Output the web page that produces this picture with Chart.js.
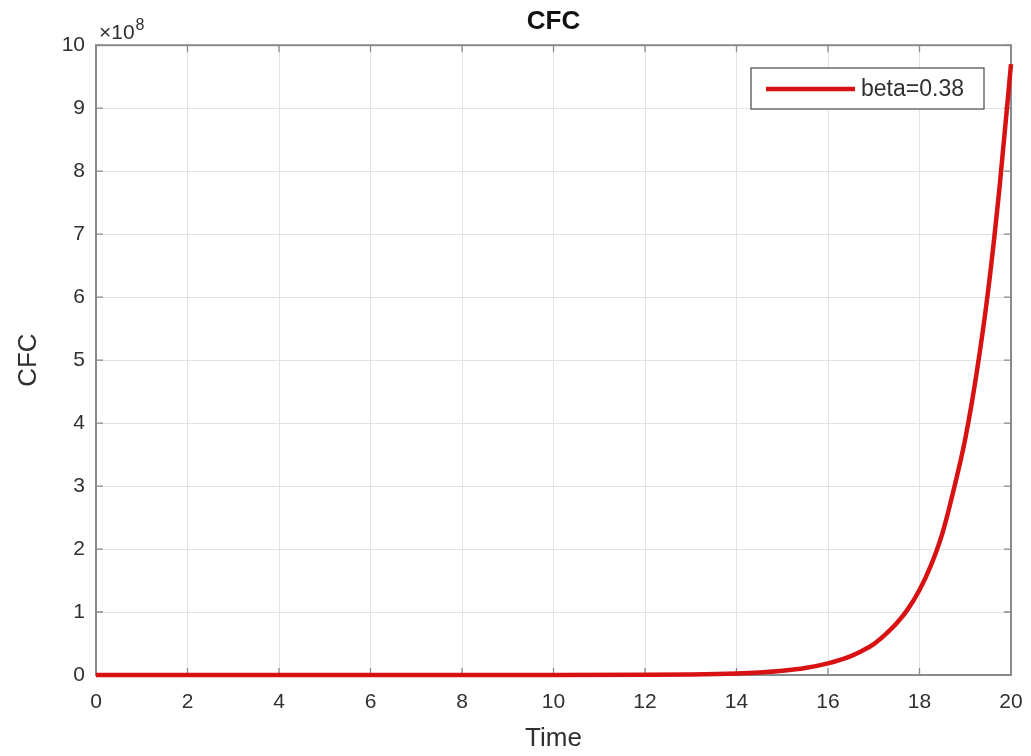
<!DOCTYPE html>
<html>
<head>
<meta charset="utf-8">
<script src="https://cdn.jsdelivr.net/npm/chart.js@4"></script>
<style>
  html, body { margin: 0; padding: 0; background: #fff; }
  #wrap { width: 1031px; height: 756px; }
</style>
</head>
<body>
<div id="wrap"><canvas id="cfcChart"></canvas></div>
<script>
// time (x) and CFC values in units of 1e8
const times = [0, 2, 4, 6, 8, 10, 12, 13, 14, 14.5, 15, 15.5, 16, 16.25, 16.5, 16.75, 17, 17.25, 17.5, 17.75,
               18, 18.25, 18.5, 18.75, 19, 19.25, 19.5, 19.75, 20];
const cfc = [0, 0, 0, 0, 0.0001, 0.0004, 0.0033, 0.009, 0.024, 0.04, 0.067, 0.11, 0.185, 0.235, 0.30, 0.385, 0.49, 0.64, 0.82, 1.05,
             1.35, 1.74, 2.25, 2.95, 3.75, 4.8, 6.1, 7.75, 9.70];
const xTicks = [0, 2, 4, 6, 8, 10, 12, 14, 16, 18, 20];
const yTicks = [0, 1, 2, 3, 4, 5, 6, 7, 8, 9, 10];
const seriesLabel = 'beta=0.38';

const FONT = 'Liberation Sans, Arial, Helvetica, sans-serif';
const TEXT = '#303030';
const AXIS = '#8a8a8a';

const points = times.map((t, i) => ({ x: t, y: cfc[i] }));

// matlab style box with inward ticks, exponent label and legend
const matlabAxes = {
    id: 'matlabAxes',
    beforeDatasetsDraw(chart) {
        const { ctx, chartArea: a, scales } = chart;
        ctx.save();
        ctx.strokeStyle = AXIS;
        ctx.lineWidth = 2;
        ctx.strokeRect(a.left, a.top, a.right - a.left, a.bottom - a.top);
        ctx.lineWidth = 1.3;
        ctx.beginPath();
        xTicks.forEach(v => {
            const px = scales.x.getPixelForValue(v);
            ctx.moveTo(px, a.bottom); ctx.lineTo(px, a.bottom - 7);
            ctx.moveTo(px, a.top); ctx.lineTo(px, a.top + 7);
        });
        yTicks.forEach(v => {
            const py = scales.y.getPixelForValue(v);
            ctx.moveTo(a.left, py); ctx.lineTo(a.left + 7, py);
            ctx.moveTo(a.right, py); ctx.lineTo(a.right - 7, py);
        });
        ctx.stroke();
        ctx.restore();
    },
    afterDraw(chart) {
        const { ctx, chartArea: a } = chart;
        ctx.save();
        // exponent
        ctx.fillStyle = TEXT;
        ctx.textBaseline = 'alphabetic';
        ctx.textAlign = 'left';
        ctx.font = '21px ' + FONT;
        ctx.fillText('\u00d710', a.left + 3, a.top - 6);
        const w = ctx.measureText('\u00d710').width;
        ctx.font = '16px ' + FONT;
        ctx.fillText('8', a.left + 4 + w, a.top - 15);

        // legend
        const ds = chart.data.datasets[0];
        const bx = 751, by = 68, bw = 233, bh = 41;
        ctx.fillStyle = '#fff';
        ctx.fillRect(bx, by, bw, bh);
        ctx.strokeStyle = '#555';
        ctx.lineWidth = 1.3;
        ctx.strokeRect(bx, by, bw, bh);
        ctx.strokeStyle = ds.borderColor;
        ctx.lineWidth = ds.borderWidth;
        ctx.beginPath();
        ctx.moveTo(bx + 15, by + 21);
        ctx.lineTo(bx + 104, by + 21);
        ctx.stroke();
        ctx.fillStyle = TEXT;
        ctx.font = '23px ' + FONT;
        ctx.textBaseline = 'middle';
        ctx.fillText(ds.label, bx + 110, by + 22);
        ctx.restore();
    }
};

const ctx = document.getElementById('cfcChart').getContext('2d');
const cfcChart = new Chart(ctx, {
    type: 'line',
    data: {
        datasets: [{
            label: seriesLabel,
            data: points,
            borderColor: '#d81212',
            borderWidth: 4.5,
            pointRadius: 0,
            fill: false,
            cubicInterpolationMode: 'monotone',
            clip: false
        }]
    },
    options: {
        responsive: true,
        maintainAspectRatio: false,
        animation: false,
        layout: { padding: { left: 0, right: 20, top: 0, bottom: 0 } },
        plugins: {
            legend: { display: false },
            tooltip: { enabled: false },
            title: {
                display: true,
                fullSize: false,
                text: 'CFC',
                color: '#111',
                font: { family: FONT, size: 26, weight: 'bold', lineHeight: 1.2 },
                padding: { top: 6, bottom: 8 }
            }
        },
        scales: {
            x: {
                type: 'linear',
                min: 0,
                max: 20,
                afterBuildTicks(scale) { scale.ticks = xTicks.map(v => ({ value: v })); },
                afterFit(scale) {
                    scale.height = 81;
                    scale.paddingLeft = 0;
                    scale.paddingRight = 0;
                },
                grid: { color: '#e3e3e3', lineWidth: 1, drawTicks: false },
                border: { display: false },
                ticks: { color: TEXT, font: { family: FONT, size: 21 }, padding: 15, maxRotation: 0 },
                title: {
                    display: true,
                    text: 'Time',
                    color: TEXT,
                    font: { family: FONT, size: 26, lineHeight: 1.2 },
                    padding: { top: 2, bottom: 2 }
                }
            },
            y: {
                type: 'linear',
                min: 0,
                max: 10,
                afterBuildTicks(scale) { scale.ticks = yTicks.map(v => ({ value: v })); },
                afterFit(scale) {
                    scale.width = 96;
                    scale.paddingTop = 0;
                    scale.paddingBottom = 0;
                },
                grid: { color: '#e3e3e3', lineWidth: 1, drawTicks: false },
                border: { display: false },
                ticks: { color: TEXT, font: { family: FONT, size: 21 }, padding: 11 },
                title: {
                    display: true,
                    text: 'CFC',
                    color: TEXT,
                    font: { family: FONT, size: 26, lineHeight: 1.2 },
                    padding: { top: 13, bottom: 0 }
                }
            }
        }
    },
    plugins: [matlabAxes]
});
</script>
</body>
</html>
